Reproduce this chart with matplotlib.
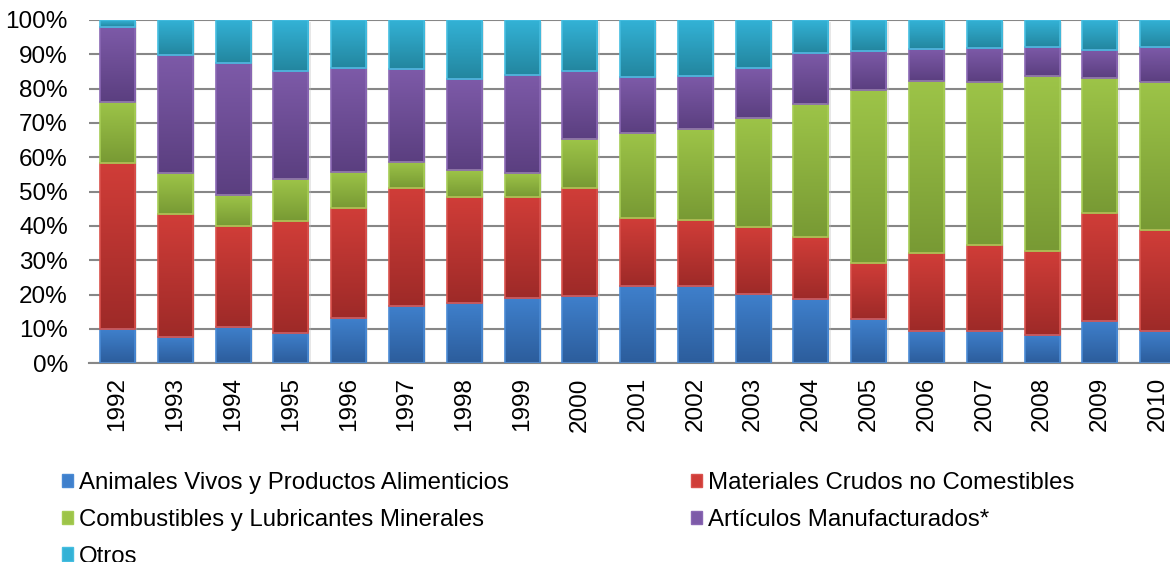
import numpy as np
import matplotlib
matplotlib.use("Agg")
import matplotlib.pyplot as plt
from matplotlib.colors import LinearSegmentedColormap
from matplotlib.patches import Patch
from matplotlib.ticker import PercentFormatter

plt.rcParams['font.family'] = ['Liberation Sans', 'DejaVu Sans']

# Datos (porcentaje de cada categoría por año)
anios = [str(a) for a in range(1992, 2011)]
animales = [9.9, 7.8, 10.7, 8.9, 13.1, 16.7, 17.6, 18.9, 19.6, 22.6,
            22.6, 20.2, 18.7, 12.8, 9.5, 9.5, 8.2, 12.4, 9.5]
materiales = [48.4, 35.6, 29.4, 32.6, 32.2, 34.3, 30.9, 29.6, 31.4, 19.6,
              19.1, 19.4, 18.0, 16.5, 22.5, 25.0, 24.6, 31.3, 29.3]
combustibles = [17.9, 11.9, 8.9, 12.1, 10.5, 7.7, 7.8, 6.8, 14.2, 24.8,
                26.5, 31.8, 38.8, 50.3, 50.3, 47.5, 50.9, 39.3, 43.2]
articulos = [21.9, 34.5, 38.4, 31.6, 30.1, 26.9, 26.4, 28.7, 20.0, 16.3,
             15.5, 14.5, 15.0, 11.5, 9.3, 9.8, 8.5, 8.3, 10.0]
otros = [1.9, 10.2, 12.6, 14.8, 14.1, 14.4, 17.3, 16.0, 14.8, 16.7,
         16.3, 14.1, 9.5, 8.9, 8.4, 8.2, 7.8, 8.7, 8.0]

series = [animales, materiales, combustibles, articulos, otros]
nombres = ["Animales Vivos y Productos Alimenticios",
           "Materiales Crudos no Comestibles",
           "Combustibles y Lubricantes Minerales",
           "Artículos Manufacturados*",
           "Otros"]
# (claro arriba, oscuro abajo, borde)
colores = [("#3f80cc", "#2c5d9c", "#4a8ad4"),
           ("#d03d38", "#9e2a28", "#d9514c"),
           ("#9dc448", "#789a34", "#a6cc55"),
           ("#7d5aa8", "#5b3f80", "#8a68b4"),
           ("#33b2d6", "#23869f", "#45bde0")]

fig = plt.figure(figsize=(11.7, 5.62), dpi=100)
ax = fig.add_axes([88.6 / 1170, 1 - 363.3 / 562, 1098 / 1170, 343.3 / 562])

x = np.arange(len(anios))
tot = np.sum(series, axis=0)
ancho = 0.606

# sombra suave
ax.bar(x + 0.04, [100] * len(x), width=ancho, bottom=-0.6, color="#bdbdbd",
       alpha=0.35, zorder=1.5, linewidth=0)

base = np.zeros(len(x))
for vals, (c1, c2, ce) in zip(series, colores):
    v = np.array(vals) / tot * 100
    cmap = LinearSegmentedColormap.from_list("g", [c2, c1])
    grad = np.linspace(0, 1, 64).reshape(-1, 1)
    for xi, b, h in zip(x, base, v):
        ax.imshow(grad, extent=[xi - ancho / 2, xi + ancho / 2, b, b + h],
                  origin="lower", cmap=cmap, aspect="auto", zorder=2,
                  interpolation="bilinear")
    ax.bar(x, v, width=ancho, bottom=base, fill=False, edgecolor=ce,
           linewidth=1.2, zorder=3)
    base += v

ax.set_xlim(-0.5, len(x) - 0.5)
ax.set_ylim(0, 100)
ax.set_yticks(np.arange(0, 101, 10))
ax.yaxis.set_major_formatter(PercentFormatter(decimals=0))
ax.set_xticks(x)
ax.set_xticklabels(anios, rotation=90)
ax.tick_params(length=0, labelsize=17.5)
ax.tick_params(axis="y", pad=15)
ax.tick_params(axis="x", pad=10)
ax.grid(axis="y", color="#878787", linewidth=1.5, zorder=0)
ax.set_axisbelow(True)
for s in ["left", "right", "top"]:
    ax.spines[s].set_visible(False)
ax.spines["bottom"].set_color("#878787")
ax.spines["bottom"].set_linewidth(1.5)

handles = [Patch(facecolor=c[0], edgecolor=c[2]) for c in colores]
orden = [0, 2, 4, 1, 3]
fig.legend([handles[i] for i in orden], [nombres[i] for i in orden],
           loc="upper left", bbox_to_anchor=(62 / 1170, 1 - 472 / 562),
           ncol=2, frameon=False, fontsize=17.3, handlelength=0.45,
           handleheight=0.5, handletextpad=0.25, labelspacing=0.62,
           columnspacing=7.6, borderaxespad=0, borderpad=0)

fig.savefig("out.png", dpi=100)
